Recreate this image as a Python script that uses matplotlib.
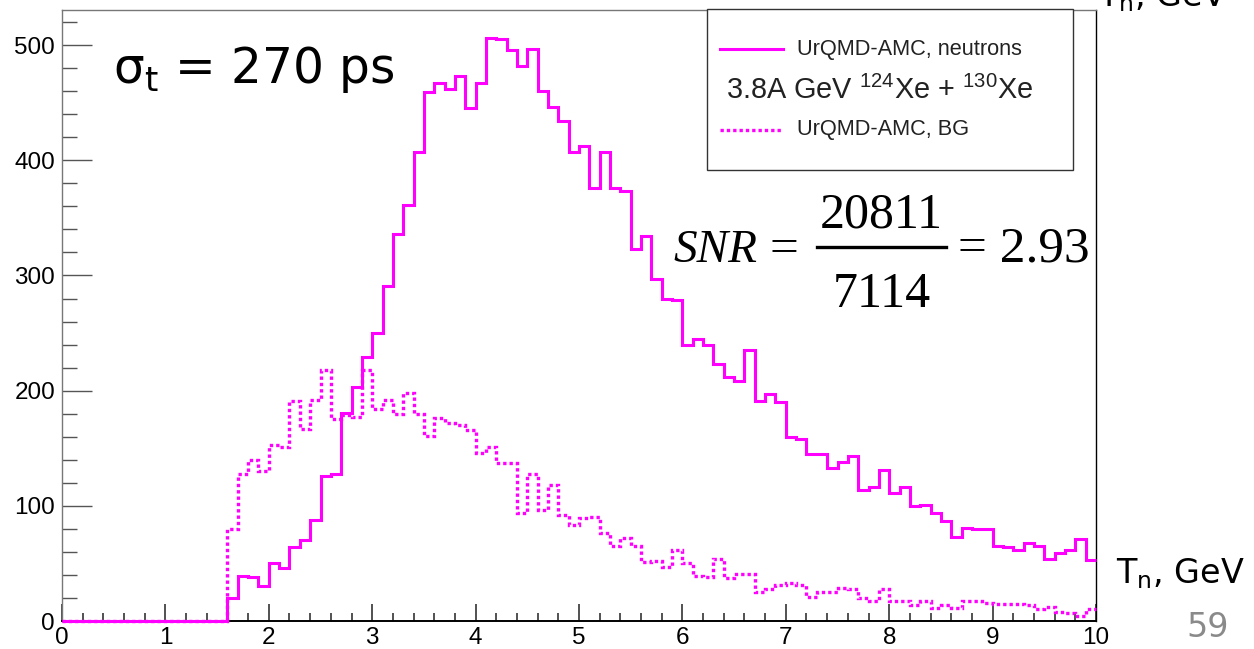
import numpy as np
import matplotlib
matplotlib.use("Agg")
import matplotlib.pyplot as plt
from matplotlib.lines import Line2D
from matplotlib.patches import Rectangle
from matplotlib.ticker import MultipleLocator

# ---------------- data ----------------
bin_edges = np.linspace(0.0, 10.0, 101)

neutrons = [
    0, 0, 0, 0, 0, 0, 0, 0, 0, 0,
    0, 0, 0, 0, 0, 0, 20, 39, 38, 30,
    50, 46, 64, 70, 88, 126, 128, 181, 203, 229,
    250, 291, 336, 361, 407, 459, 467, 462, 473, 445,
    467, 506, 505, 496, 482, 497, 460, 446, 434, 407,
    412, 376, 407, 376, 373, 323, 334, 297, 280, 279,
    240, 245, 240, 223, 212, 208, 235, 191, 197, 190,
    160, 158, 145, 145, 133, 138, 143, 114, 116, 131,
    111, 116, 100, 101, 94, 87, 73, 81, 80, 80,
    65, 64, 62, 68, 65, 54, 59, 62, 71, 53,
]

background = [
    0, 0, 0, 0, 0, 0, 0, 0, 0, 0,
    0, 0, 0, 0, 0, 0, 80, 128, 140, 130,
    153, 151, 191, 167, 192, 218, 175, 179, 177, 218,
    184, 192, 180, 198, 180, 161, 176, 172, 170, 166,
    146, 151, 137, 137, 94, 128, 96, 118, 92, 83,
    89, 90, 76, 65, 72, 65, 51, 52, 47, 62,
    50, 39, 38, 54, 37, 41, 41, 25, 28, 31,
    33, 31, 21, 25, 25, 29, 28, 20, 17, 28,
    17, 17, 14, 17, 11, 14, 11, 17, 17, 16,
    15, 15, 15, 14, 10, 12, 8, 7, 4, 10,
]

legend_labels = ["UrQMD-AMC, neutrons", "UrQMD-AMC, BG"]
legend_header = r"3.8A GeV $\mathregular{^{124}}$Xe + $\mathregular{^{130}}$Xe"
sigma_label = r"σ$_\mathregular{t}$ = 270 ps"
snr_numerator = "20811"
snr_denominator = "7114"
snr_value = "2.93"
x_title = r"T$_\mathregular{n}$, GeV"
page_number = "59"

# ---------------- figure ----------------
W, H = 1254, 649
MAG = "#ff00ff"


def fx(px):
    return px / W


def fy(py):
    return 1.0 - py / H


fig = plt.figure(figsize=(W / 100, H / 100), dpi=100)
fig.patch.set_facecolor("white")
ax = fig.add_axes([fx(62), fy(621), (1096 - 62) / W, (621 - 10) / H])

ax.stairs(neutrons, bin_edges, color=MAG, lw=2.2, baseline=None,
          clip_on=False, zorder=3)
ax.stairs(background, bin_edges, color=MAG, lw=2.4, ls=(0, (1, 0.9)),
          baseline=None, clip_on=False, zorder=3)

ax.set_xlim(0, 10)
ax.set_ylim(0, 530.5)
ax.xaxis.set_major_locator(MultipleLocator(1))
ax.xaxis.set_minor_locator(MultipleLocator(0.2))
ax.yaxis.set_major_locator(MultipleLocator(100))
ax.yaxis.set_minor_locator(MultipleLocator(20))

ax.tick_params(which="both", direction="in", top=False, right=False)
ax.tick_params(axis="y", which="major", length=21.6, width=1.0, color="#555555",
               pad=5, labelsize=17.5)
ax.tick_params(axis="y", which="minor", length=10.8, width=1.0, color="#555555")
ax.tick_params(axis="x", which="major", length=12.5, width=1.2, color="#333333",
               pad=4, labelsize=17.5)
ax.tick_params(axis="x", which="minor", length=6.0, width=1.2, color="#333333")
for lab in ax.get_xticklabels() + ax.get_yticklabels():
    lab.set_family("Liberation Sans")

ax.spines["left"].set_color("#777777")
ax.spines["top"].set_color("#777777")
ax.spines["bottom"].set_color("black")
ax.spines["right"].set_color("black")
for s in ax.spines.values():
    s.set_linewidth(1.0)
ax.spines["bottom"].set_linewidth(1.4)

# ---------------- legend box ----------------
box = Rectangle((fx(707), fy(170)), (1073 - 707) / W, (170 - 9.5) / H,
                transform=fig.transFigure, facecolor="white",
                edgecolor="#333333", lw=1.0, zorder=5)
fig.add_artist(box)
fig.add_artist(Line2D([fx(720), fx(783)], [fy(49), fy(49)],
                      transform=fig.transFigure, color=MAG, lw=2.2, zorder=6))
fig.add_artist(Line2D([fx(720), fx(783)], [fy(130), fy(130)],
                      transform=fig.transFigure, color=MAG, lw=2.4,
                      ls=(0, (1, 0.9)), zorder=6))
fig.text(fx(797), fy(49), legend_labels[0], family="Liberation Sans",
         size=15.7, color="#222222", va="center", ha="left", zorder=6)
fig.text(fx(726), fy(90), legend_header, family="Liberation Sans",
         size=20.8, color="#222222", va="center", ha="left", zorder=6)
fig.text(fx(797), fy(130), legend_labels[1], family="Liberation Sans",
         size=15.7, color="#222222", va="center", ha="left", zorder=6)

# ---------------- sigma annotation ----------------
fig.text(fx(113), fy(83), sigma_label, family="DejaVu Sans", size=35,
         color="black", va="baseline", ha="left", zorder=6)

# ---------------- SNR formula ----------------
fig.text(fx(673), fy(262), "SNR", family="Liberation Serif", style="italic",
         size=34, color="black", va="baseline", ha="left", zorder=6)
fig.text(fx(769), fy(262), "=", family="Liberation Serif",
         size=37, color="black", va="baseline", ha="left", zorder=6)
fig.text(fx(881), fy(227), snr_numerator, family="Liberation Serif",
         size=36, color="black", va="baseline", ha="center", zorder=6)
fig.text(fx(882), fy(307), snr_denominator, family="Liberation Serif",
         size=36, color="black", va="baseline", ha="center", zorder=6)
fig.add_artist(Line2D([fx(817), fx(946)], [fy(247), fy(247)],
                      transform=fig.transFigure, color="black", lw=2.4, zorder=6))
fig.text(fx(958), fy(262), "= " + snr_value, family="Liberation Serif",
         size=37, color="black", va="baseline", ha="left", zorder=6)

# ---------------- slide texts ----------------
fig.text(fx(1116), fy(583), x_title, family="DejaVu Sans", size=24,
         color="black", va="baseline", ha="left", zorder=6)
fig.text(fx(1098), fy(6), x_title, family="DejaVu Sans", size=24,
         color="black", va="baseline", ha="left", zorder=6)
fig.text(fx(1186), fy(637), page_number, family="DejaVu Sans", size=24,
         color="#8a8a8a", va="baseline", ha="left", zorder=6)

fig.savefig("out.png", dpi=100, facecolor="white")
